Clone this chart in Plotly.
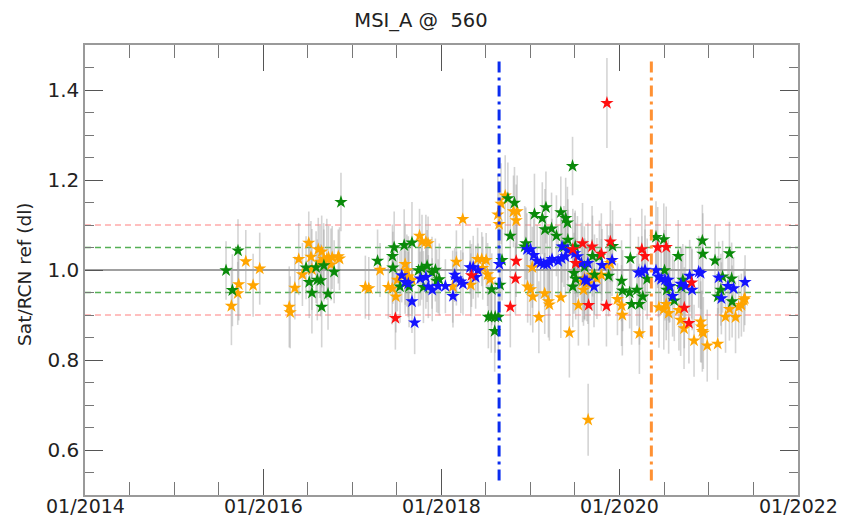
import plotly.graph_objects as go

# ---------------- data ----------------
orange_dates = [
    "2015-08-24", "2015-09-19", "2015-09-23", "2015-10-22", "2015-11-21", "2015-12-18",
    "2016-04-17", "2016-04-21", "2016-05-10", "2016-05-26", "2016-06-10", "2016-07-06", "2016-07-15", "2016-07-19",
    "2016-08-14", "2016-08-28", "2016-09-05", "2016-09-18", "2016-09-25", "2016-10-05", "2016-10-10", "2016-11-04",
    "2016-11-09", "2016-08-21",
    "2017-02-23", "2017-03-09", "2017-04-24", "2017-05-28", "2017-06-13", "2017-06-28", "2017-07-04", "2017-08-05",
    "2017-08-12", "2017-08-18", "2017-09-02", "2017-10-03", "2017-10-13", "2017-10-29", "2017-11-07",
    "2018-02-16", "2018-03-03", "2018-03-29", "2018-05-01", "2018-05-29", "2018-06-15", "2018-06-19", "2018-07-03",
    "2018-07-09", "2018-07-19",
    "2018-08-20", "2018-08-25", "2018-09-02", "2018-09-19", "2018-10-23", "2018-11-07", "2018-11-03",
    "2019-01-08", "2018-12-20", "2019-01-01", "2019-01-10", "2019-02-28", "2019-03-15", "2019-03-19", "2019-02-04",
    "2019-05-05", "2019-06-09",
    "2019-07-16", "2019-08-02", "2019-08-10", "2019-08-06", "2019-08-24", "2019-09-10", "2019-09-30", "2019-10-18",
    "2019-11-11", "2019-11-24", "2019-08-25",
    "2019-12-23", "2020-01-09", "2020-01-12", "2020-03-22",
    "2020-06-10", "2020-06-30", "2020-07-10", "2020-07-20", "2020-08-31", "2020-09-07", "2020-09-21", "2020-11-01",
    "2020-11-28", "2020-12-01", "2020-12-05", "2020-12-09", "2020-12-25",
    "2021-02-06", "2021-03-10", "2021-03-26", "2021-04-20", "2021-05-03", "2021-05-14", "2021-05-24", "2021-05-28",
]
orange_vals = [
    0.920, 0.948, 0.968, 1.019, 0.966, 1.003,
    0.918, 0.906, 0.960, 1.024, 0.990, 1.060, 1.029, 1.001, 1.046, 1.041, 1.024, 1.024, 1.028, 1.012, 1.028, 1.030,
    1.025, 1.018,
    0.962, 0.959, 1.000, 0.962, 0.959, 0.941, 0.978, 1.013, 0.999, 0.985, 0.978, 1.076, 1.063, 1.063, 1.059,
    0.963, 1.018, 1.113, 0.967, 1.024, 1.024, 1.004, 1.022, 0.990, 0.979,
    1.123, 1.102, 1.147, 1.165, 1.130, 1.130, 1.110,
    1.006, 0.963, 0.957, 0.941, 0.948, 0.930, 0.923, 0.895, 0.939, 0.861,
    0.922, 0.974, 0.981, 0.956, 0.970, 0.989, 0.981, 0.989, 1.011, 1.015, 0.667,
    0.935, 0.921, 0.900, 0.859,
    0.917, 0.913, 0.924, 0.904, 0.911, 0.889, 0.870, 0.843, 0.885, 0.874, 0.864, 0.860, 0.832,
    0.836, 0.896, 0.913, 0.895, 0.918, 0.922, 0.933, 0.937,
]
orange_err = [
    0.087, 0.07, 0.08, 0.07, 0.07, 0.08,
    0.09, 0.08, 0.07, 0.08, 0.07, 0.07, 0.08, 0.09, 0.07, 0.08, 0.08, 0.09, 0.07, 0.08, 0.07, 0.06, 0.07, 0.08,
    0.07, 0.07, 0.06, 0.07, 0.08, 0.08, 0.07, 0.09, 0.08, 0.09, 0.08, 0.06, 0.06, 0.06, 0.06,
    0.08, 0.07, 0.09, 0.07, 0.07, 0.06, 0.07, 0.06, 0.07, 0.07,
    0.09, 0.08, 0.09, 0.09, 0.08, 0.08, 0.08,
    0.09, 0.08, 0.08, 0.08, 0.09, 0.08, 0.08, 0.08, 0.09, 0.10,
    0.09, 0.09, 0.09, 0.08, 0.09, 0.08, 0.09, 0.08, 0.09, 0.09, 0.08,
    0.08, 0.09, 0.09, 0.09,
    0.09, 0.09, 0.08, 0.09, 0.09, 0.08, 0.09, 0.08, 0.09, 0.08, 0.09, 0.08, 0.08,
    0.08, 0.08, 0.07, 0.08, 0.07, 0.07, 0.07, 0.06,
]

green_dates = [
    "2015-08-02", "2015-08-28", "2015-09-20",
    "2016-06-25", "2016-07-08", "2016-07-19", "2016-08-05", "2016-08-10", "2016-08-24", "2016-09-06", "2016-08-28",
    "2016-09-23", "2016-10-18", "2016-11-15",
    "2017-04-14", "2017-06-14", "2017-06-21", "2017-06-16", "2017-08-01", "2017-09-02", "2017-07-15", "2017-08-21",
    "2017-09-29", "2017-10-12", "2017-11-03", "2017-11-23", "2017-12-07", "2017-12-12", "2017-12-23", "2017-10-19",
    "2018-07-26", "2018-07-12", "2018-07-24", "2018-08-09", "2018-08-22", "2018-08-07", "2018-08-29", "2018-09-06",
    "2018-09-30", "2018-10-27", "2018-10-10", "2018-12-13", "2018-12-08",
    "2019-01-17", "2019-02-18", "2019-03-05", "2019-03-01", "2019-03-28", "2019-04-17", "2019-05-05", "2019-05-25",
    "2019-06-01", "2019-06-22", "2019-06-03", "2019-05-18", "2019-07-03", "2019-06-28", "2019-07-05", "2019-06-23",
    "2019-08-10", "2019-09-12", "2019-09-20", "2019-10-10", "2019-11-17", "2019-12-03",
    "2020-01-09", "2020-01-13", "2020-02-11", "2020-02-14", "2020-02-19", "2020-03-12", "2020-03-22", "2020-04-05",
    "2020-04-23",
    "2020-05-29", "2020-06-30", "2020-07-03", "2020-07-12", "2020-07-22", "2020-08-12", "2020-08-28", "2020-09-10",
    "2020-09-16", "2020-12-05", "2020-12-07",
    "2021-01-26", "2021-02-06", "2021-02-19", "2021-02-26", "2021-03-26", "2021-04-04", "2021-04-06",
]
green_vals = [
    0.999, 0.955, 1.043,
    1.005, 0.973, 0.949, 1.006, 0.978, 0.977, 1.010, 0.918, 0.947, 0.996, 1.151,
    1.020, 1.031, 1.050, 1.005, 1.055, 1.061, 0.963, 0.963, 0.999, 1.004, 1.009, 0.994, 1.000, 0.976, 0.979, 0.962,
    0.957, 0.896, 0.896, 0.896, 0.896, 0.864, 0.967, 1.022, 1.159, 1.149, 1.076, 1.059, 1.052,
    1.124, 1.115, 1.139, 1.090, 1.092, 1.076, 1.128, 1.115, 1.105, 1.231, 1.067, 1.052, 1.052, 0.993, 0.980, 0.963,
    1.007, 1.031, 0.989, 1.030, 0.987, 1.053,
    0.976, 0.954, 0.950, 1.026, 0.924, 0.956, 0.924, 0.941, 0.980,
    1.073, 1.068, 0.999, 0.956, 0.963, 0.932, 1.031, 0.962, 0.978, 1.065, 1.036,
    1.021, 0.941, 0.956, 0.985, 1.037, 0.981, 0.930,
]
green_err = [
    0.065, 0.08, 0.07,
    0.07, 0.08, 0.09, 0.08, 0.09, 0.08, 0.08, 0.09, 0.08, 0.07, 0.065,
    0.07, 0.07, 0.08, 0.08, 0.08, 0.09, 0.08, 0.09, 0.08, 0.07, 0.08, 0.08, 0.07, 0.07, 0.08, 0.08,
    0.08, 0.07, 0.08, 0.08, 0.08, 0.09, 0.08, 0.09, 0.08, 0.08, 0.08, 0.08, 0.09,
    0.09, 0.08, 0.08, 0.09, 0.08, 0.09, 0.08, 0.09, 0.08, 0.065, 0.09, 0.09, 0.08, 0.09, 0.09, 0.09,
    0.09, 0.09, 0.09, 0.08, 0.09, 0.08,
    0.09, 0.09, 0.08, 0.09, 0.09, 0.08, 0.09, 0.09, 0.09,
    0.08, 0.08, 0.09, 0.09, 0.08, 0.09, 0.08, 0.09, 0.08, 0.08, 0.09,
    0.08, 0.09, 0.08, 0.08, 0.07, 0.08, 0.08,
]

blue_dates = [
    "2017-07-22", "2017-08-05", "2017-08-18", "2017-09-02", "2017-09-13", "2017-10-06", "2017-10-29", "2017-11-08",
    "2017-11-24", "2017-12-18",
    "2018-01-17", "2018-02-17", "2018-02-24", "2018-03-03", "2018-03-21", "2018-03-30", "2018-04-28", "2018-05-11",
    "2018-05-21", "2018-05-31", "2018-08-26",
    "2018-12-17", "2019-01-01", "2019-01-14", "2019-01-28", "2019-02-11", "2019-02-24", "2019-03-10", "2019-03-20",
    "2019-03-30", "2019-04-24", "2019-05-08", "2019-05-24", "2019-05-10", "2019-06-03", "2019-07-01", "2019-07-12",
    "2019-07-28", "2019-08-24", "2019-08-11", "2019-08-20", "2019-09-18", "2019-10-21", "2019-12-01",
    "2020-03-18", "2020-04-01", "2020-04-14", "2020-05-29", "2020-06-08", "2020-06-19", "2020-07-05", "2020-07-18",
    "2020-07-25", "2020-08-05", "2020-09-08", "2020-09-27", "2020-10-14", "2020-10-24", "2020-11-20", "2020-11-28",
    "2021-02-10", "2021-02-21", "2021-03-20", "2021-04-12", "2021-05-29",
]
blue_vals = [
    0.988, 0.973, 0.970, 0.930, 0.883, 0.981, 0.984, 0.963, 0.956, 0.964,
    0.964, 0.942, 0.989, 0.981, 0.974, 0.969, 1.006, 1.006, 0.984, 0.999, 1.013,
    1.046, 1.046, 1.033, 1.020, 1.016, 1.013, 1.013, 1.018, 1.024, 1.020, 1.026, 1.030, 1.052, 1.044, 1.037, 1.030,
    1.015, 1.015, 0.978, 0.976, 0.963, 1.011, 1.022,
    0.994, 0.995, 1.000, 0.999, 0.985, 0.980, 0.978, 0.978, 0.964, 0.942, 0.969, 0.964, 0.987, 0.956, 0.996, 0.993,
    0.983, 0.937, 0.964, 0.959, 0.973,
]
blue_err = [
    0.06, 0.07, 0.07, 0.07, 0.07, 0.06, 0.07, 0.07, 0.07, 0.06,
    0.06, 0.07, 0.06, 0.06, 0.07, 0.07, 0.06, 0.07, 0.07, 0.06, 0.08,
    0.08, 0.08, 0.08, 0.08, 0.08, 0.08, 0.08, 0.08, 0.09, 0.08, 0.09, 0.09, 0.08, 0.09, 0.09, 0.09, 0.09, 0.09,
    0.09, 0.09, 0.09, 0.08, 0.08,
    0.08, 0.08, 0.09, 0.09, 0.09, 0.08, 0.09, 0.09, 0.08, 0.09, 0.08, 0.09, 0.08, 0.09, 0.08, 0.08,
    0.08, 0.08, 0.07, 0.07, 0.06,
]

red_dates = [
    "2017-06-26", "2018-05-04", "2018-11-03", "2018-10-31", "2018-10-10", "2019-06-23", "2019-07-05", "2019-08-02",
    "2019-09-10", "2019-10-18", "2019-11-24", "2019-08-27", "2019-11-08", "2019-11-10", "2020-04-01", "2020-04-14",
    "2020-06-05", "2020-07-10", "2020-10-22", "2020-09-22", "2020-10-11",
]
red_vals = [
    0.893, 0.988, 1.020, 0.981, 0.918, 1.046, 1.015, 1.059, 1.052, 1.036, 1.063, 0.922, 0.920, 1.371, 1.046, 1.031,
    1.050, 1.051, 0.972, 0.916, 0.882,
]
red_err = [
    0.07, 0.07, 0.08, 0.08, 0.09, 0.09, 0.09, 0.09, 0.09, 0.09, 0.09, 0.09, 0.09, 0.10, 0.09, 0.09,
    0.09, 0.09, 0.08, 0.09, 0.09,
]

event_dates = ["2018-08-25", "2020-05-10"]
event_colors = ["#0a2cf0", "#ff9133"]

ref_levels = [1.0, 1.05, 0.95, 1.1, 0.9]
ref_colors = ["#808080", "#55b055", "#55b055", "#ffaaaa", "#ffaaaa"]
ref_dash = ["solid", "6px,4px", "6px,4px", "6px,4px", "6px,4px"]

x_tick_vals = ["2014-01-01", "2016-01-01", "2018-01-01", "2020-01-01", "2022-01-01"]
x_tick_text = ["01/2014", "01/2016", "01/2018", "01/2020", "01/2022"]
y_tick_vals = [0.6, 0.8, 1.0, 1.2, 1.4]
y_tick_text = ["0.6", "0.8", "1.0", "1.2", "1.4"]

series = [
    ("orange", orange_dates, orange_vals, orange_err, "#FFA500"),
    ("green", green_dates, green_vals, green_err, "#0a8a0a"),
    ("blue", blue_dates, blue_vals, blue_err, "#1414ff"),
    ("red", red_dates, red_vals, red_err, "#ff1010"),
]

# ---------------- figure ----------------
fig = go.Figure()

# error bars first (below all markers)
for name, d, v, e, c in series:
    fig.add_trace(go.Scatter(
        x=d, y=v, mode="markers", showlegend=False, hoverinfo="skip",
        marker=dict(size=2, color="rgba(0,0,0,0)"),
        error_y=dict(type="data", array=e, color="rgba(160,160,160,0.45)", thickness=1.6, width=0),
    ))

for name, d, v, e, c in series:
    fig.add_trace(go.Scatter(
        x=d, y=v, mode="markers", name=name, showlegend=False,
        marker=dict(symbol="star", size=10, color=c, line=dict(width=0)),
    ))

shapes = []
for lv, col, ds in zip(ref_levels, ref_colors, ref_dash):
    shapes.append(dict(type="line", xref="paper", x0=0, x1=1, yref="y", y0=lv, y1=lv,
                       line=dict(color=col, width=1.3, dash=ds), layer="below"))
for dt, col in zip(event_dates, event_colors):
    shapes.append(dict(type="line", xref="x", x0=dt, x1=dt, yref="y", y0=0.532, y1=1.472,
                       line=dict(color=col, width=3, dash="11px,5px,3px,5px"), layer="above"))

text_color = "#222222"
tick_font = dict(family="DejaVu Sans", size=20, color=text_color)

# x tick labels as annotations so they sit right under the axis as in the reference
annotations = []
for tv, tt in zip(x_tick_vals, x_tick_text):
    annotations.append(dict(x=tv, xref="x", y=0, yref="paper", yanchor="top", yshift=2,
                            text=tt, showarrow=False, font=dict(family="DejaVu Sans", size=19, color=text_color)))
annotations.append(dict(x=-0.085, xref="paper", y=0.49, yref="paper", xanchor="center", yanchor="middle",
                        text="Sat/RCN ref (dl)", textangle=-90, showarrow=False,
                        font=dict(family="DejaVu Sans", size=18.5, color=text_color)))

fig.update_layout(
    width=842, height=520,
    margin=dict(l=85, r=44, t=45, b=25),
    paper_bgcolor="white", plot_bgcolor="white",
    title=dict(text="MSI_A @  560", x=0.5, xanchor="center", y=0.962, yanchor="middle",
               font=dict(family="DejaVu Sans", size=19.5, color=text_color)),
    shapes=shapes,
    annotations=annotations,
    xaxis=dict(
        type="date", range=["2014-01-01", "2022-01-01"], automargin=False,
        tickmode="array", tickvals=x_tick_vals, showticklabels=False,
        ticks="inside", ticklen=26, tickwidth=1.3, tickcolor="#555555",
        showline=True, linecolor="#9a9a9a", linewidth=1.5, mirror="allticks",
        showgrid=False, zeroline=False,
        minor=dict(dtick="M6", tick0="2014-01-01", ticks="inside", ticklen=13, tickwidth=1.2,
                   tickcolor="#777777", showgrid=False),
    ),
    yaxis=dict(
        range=[0.5, 1.5], automargin=False,
        tickmode="array", tickvals=y_tick_vals, ticktext=y_tick_text,
        ticks="inside", ticklen=18, tickwidth=1.3, tickcolor="#555555",
        showline=True, linecolor="#9a9a9a", linewidth=1.5, mirror="allticks",
        showgrid=False, zeroline=False, tickfont=tick_font,
        minor=dict(dtick=0.05, tick0=0.5, ticks="inside", ticklen=9, tickwidth=1.2,
                   tickcolor="#777777", showgrid=False),
    ),
)

fig.write_html("out.html")
